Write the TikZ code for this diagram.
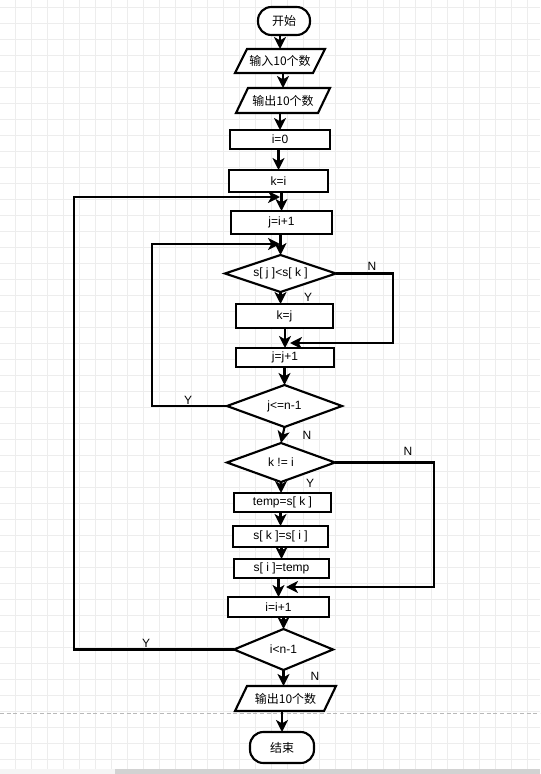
\documentclass[tikz,border=0pt]{standalone}
\usepackage{fontspec}
\setmainfont{Liberation Sans}
\newfontfamily\cjk{Noto Sans CJK SC}
\usetikzlibrary{arrows.meta,backgrounds}
\tikzset{
  base/.style={inner sep=0pt, outer sep=0pt, font=\fontsize{9}{10}\selectfont},
  proc/.style 2 args={base, draw, fill=white, line width=1.6pt, minimum width=#1, minimum height=#2},
  term/.style 2 args={proc={#1}{#2}, rounded corners=10pt},
  shp/.style 2 args={base, minimum width=#1, minimum height=#2},
  ln/.style={line width=1.6pt, line join=miter},
  arr/.style={line width=1.6pt, -{Stealth[length=9pt,width=9pt,inset=2.5pt]}},
  lab/.style={base},
  gridline/.style={draw=gray!14, line width=0.5pt},
}
\begin{document}
\begin{tikzpicture}[x=0.75pt,y=-0.75pt]
\path[use as bounding box] (0,0) rectangle (540,774);

% nodes
\node[term={39pt}{21pt}] (start) at (284,21) {\cjk 开始};
\node[shp={67.5pt}{18pt}] (in1) at (280,61) {\cjk 输入10个数};
\node[shp={70.5pt}{18.75pt}] (out1) at (283,100.5) {\cjk 输出10个数};
\node[proc={75pt}{14.25pt}] (i0) at (280,139.5) {i=0};
\node[proc={74.25pt}{16.5pt}] (ki) at (278.5,181) {k=i};
\node[proc={75.75pt}{17.25pt}] (ji1) at (281.5,222.5) {j=i+1};
\node[shp={83.25pt}{27.75pt}] (d1) at (280.5,273.5) {s[ j ]<s[ k ]};
\node[proc={72.75pt}{18pt}] (kj) at (284.5,316) {k=j};
\node[proc={73.5pt}{14.25pt}] (jj1) at (285,357.5) {j=j+1};
\node[shp={86.25pt}{31.5pt}] (d2) at (284.5,406) {j<=n-1};
\node[shp={81pt}{29.25pt}] (d3) at (281,462.5) {k != i};
\node[proc={72.75pt}{14.25pt}] (t1) at (282.5,502.5) {temp=s[ k ]};
\node[proc={71.25pt}{15.75pt}] (t2) at (280.5,536.5) {s[ k ]=s[ i ]};
\node[proc={71.25pt}{14.25pt}] (t3) at (281.5,568.5) {s[ i ]=temp};
\node[proc={75.75pt}{15pt}] (ii1) at (278.5,607) {i=i+1};
\node[shp={74.25pt}{30.75pt}] (d4) at (283.5,649.5) {i<n-1};
\node[shp={75.75pt}{18.75pt}] (out2) at (285.5,698.5) {\cjk 输出10个数};
\node[term={48pt}{23.25pt}] (end) at (282,747.5) {\cjk 结束};

% labels
\node[lab] (l1) at (372,266) {N};
\node[lab] (l2) at (308,297) {Y};
\node[lab] (l3) at (188,400) {Y};
\node[lab] (l4) at (307,435) {N};
\node[lab] (l5) at (408,451) {N};
\node[lab] (l6) at (310,483) {Y};
\node[lab] (l7) at (146,643) {Y};
\node[lab] (l8) at (315,676) {N};

% helper coordinates
\coordinate (c1) at (74,197);
\coordinate (m1) at (280,197);
\coordinate (c2) at (152,244);
\coordinate (m2) at (280,244);
\coordinate (c3) at (393,343);
\coordinate (m3) at (290,343);
\coordinate (c4) at (434,587);
\coordinate (m4) at (286,587);

% background: grid, page break, scrollbar, white fills
\begin{scope}[on background layer]
  \fill[white] (0,0) rectangle (540,774);
  \foreach \i in {15,31,...,540} \draw[gridline] (\i,0) -- (\i,774);
  \foreach \j in {7,23,...,774} \draw[gridline] (0,\j) -- (540,\j);
  \draw[gray!55, line width=0.6pt, dash pattern=on 3pt off 2pt] (0,713) -- (540,713);
  \fill[gray!8] (0,769) rectangle (540,774);
  \fill[gray!35] (115,769) rectangle (540,774);
  \foreach \n in {d1,d2,d3,d4}
    \fill[white] (\n.north) -- (\n.east) -- (\n.south) -- (\n.west) -- cycle;
  \foreach \n in {in1,out1,out2}
    \fill[white] ([xshift=9pt]\n.north west) -- (\n.north east) -- ([xshift=-9pt]\n.south east) -- (\n.south west) -- cycle;
\end{scope}

% outlines of diamonds and parallelograms
\foreach \n in {d1,d2,d3,d4}
  \draw[ln] (\n.north) -- (\n.east) -- (\n.south) -- (\n.west) -- cycle;
\foreach \n in {in1,out1,out2}
  \draw[ln] ([xshift=9pt]\n.north west) -- (\n.north east) -- ([xshift=-9pt]\n.south east) -- (\n.south west) -- cycle;

% main trunk (vertical connectors)
\draw[arr] (start.south -| in1.north) -- (in1.north);
\draw[arr] (in1.south -| out1.north) -- (out1.north);
\draw[arr] (out1.south -| i0.north) -- (i0.north);
\draw[arr] (i0.south -| ki.north) -- (ki.north);
\draw[arr] (ki.south -| ji1.north) -- (ji1.north);
\draw[arr] (ji1.south -| d1.north) -- (d1.north);
\draw[arr] (d1.south) -- (d1.south |- kj.north);
\draw[arr] (kj.south -| jj1.north) -- (jj1.north);
\draw[arr] (jj1.south -| d2.north) -- (d2.north);
\draw[arr] (d2.south) -- (d3.north);
\draw[arr] (d3.south) -- (d3.south |- t1.north);
\draw[arr] (t1.south -| t2.north) -- (t2.north);
\draw[arr] (t2.south -| t3.north) -- (t3.north);
\draw[arr] (t3.south -| ii1.north) -- (ii1.north);
\draw[arr] (ii1.south -| d4.north) -- (d4.north);
\draw[arr] (d4.south) -- (d4.south |- out2.north);
\draw[arr] (out2.south -| end.north) -- (end.north);

% loops and branches
\draw[arr] (d4.west) -| (c1) -- (m1);
\draw[arr] (d2.west) -| (c2) -- (m2);
\draw[arr] (d1.east) -| (c3) -- (m3);
\draw[arr] (d3.east) -| (c4) -- (m4);
\end{tikzpicture}
\end{document}
